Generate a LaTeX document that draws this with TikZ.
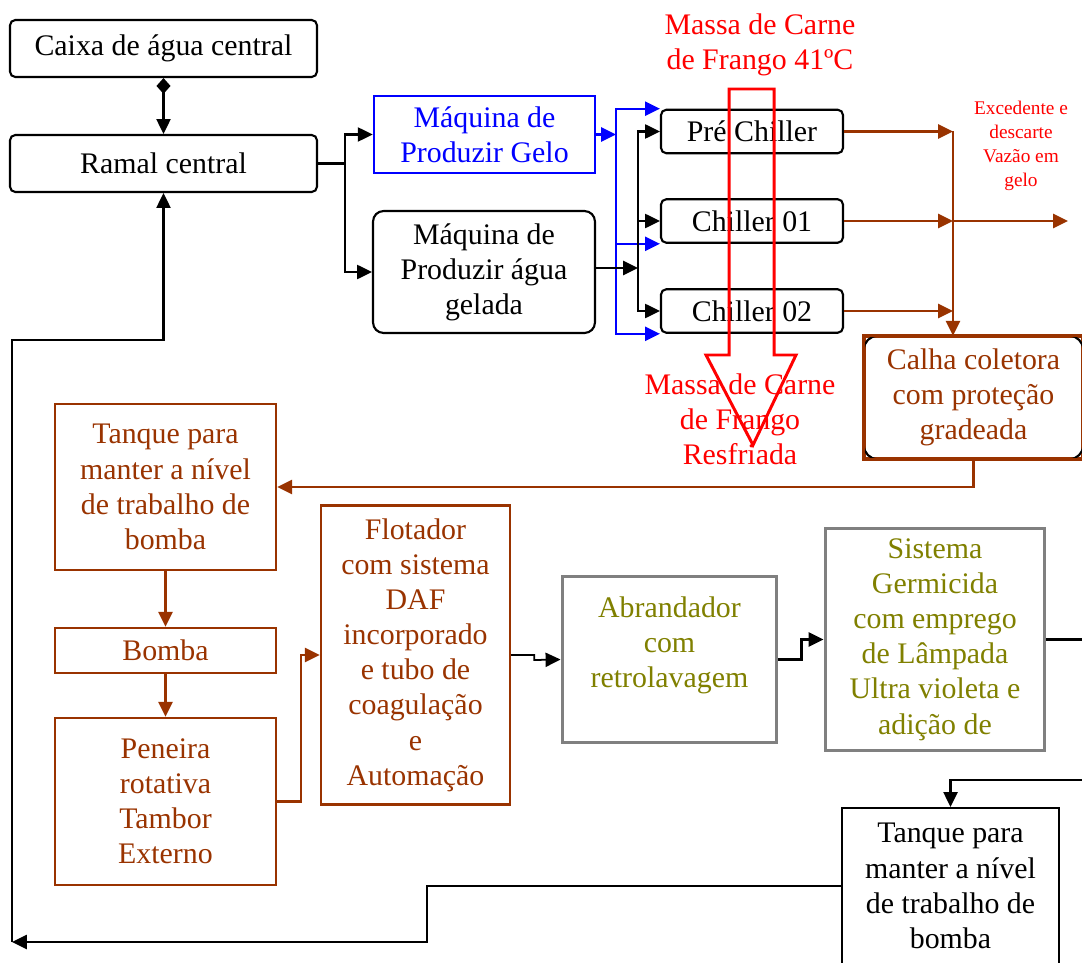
\documentclass[tikz,border=0pt]{standalone}
\usepackage{fontspec}
\setmainfont{Liberation Serif}
\usetikzlibrary{arrows.meta}
\definecolor{brn}{RGB}{153,51,0}
\definecolor{olv}{RGB}{128,128,0}

\begin{document}
\begin{tikzpicture}[x=0.02cm,y=-0.02cm,font=\fontsize{17}{20}\selectfont,
    >={Triangle[length=8.5pt,width=8pt]}]

        \def \lw {4.42cm}
        \def \cw {3.64cm}

        \tikzset{rndbox/.style={draw,line width=1.2pt,rounded corners=3pt,align=center,inner sep=0pt}}
        \tikzset{gelobox/.style={draw=blue,line width=1.5pt,text=blue,align=center,inner sep=0pt}}
        \tikzset{brnbox/.style={draw=brn,line width=1.4pt,text=brn,align=center,inner sep=0pt}}
        \tikzset{olvbox/.style={draw=gray,line width=1.7pt,text=olv,align=center,inner sep=0pt}}
        \tikzset{sqbox/.style={draw,line width=1.2pt,align=center,inner sep=0pt}}
        \tikzset{conn/.style={line width=1.3pt}}
        \tikzset{bconn/.style={blue,line width=1.3pt}}
        \tikzset{brconn/.style={brn,line width=1.3pt}}
        \tikzset{redtxt/.style={text=red,align=center,inner sep=0pt}}

        \useasboundingbox (0,0) rectangle (1082,963);

        % Draw boxes
        \node (caixa) at (163.5,48.5) [rndbox,minimum width=6.14cm,minimum height=1.14cm] {Caixa de água central};
        \node (ramal) at (163.5,163.5) [rndbox,minimum width=6.14cm,minimum height=1.14cm] {Ramal central};
        \node (gelo) at (484.5,134.5) [gelobox,minimum width=\lw,minimum height=1.54cm] {Máquina de\\Produzir Gelo};
        \node (agua) at (484,272) [rndbox,rounded corners=6pt,minimum width=4.44cm,minimum height=2.44cm] {Máquina de\\Produzir água\\gelada};
        \foreach \c/\y/\t in {pre/131.5/Pré Chiller,ch1/221/Chiller 01,ch2/311/Chiller 02} {
            \node (\c) at (752,\y) [rndbox,minimum width=\cw,minimum height=0.87cm] {\t};
        }
        \node (calha) at (973.5,397.5) [brnbox,minimum width=4.34cm,minimum height=2.42cm] {Calha coletora\\com proteção\\gradeada};
        \draw[line width=1.2pt,rounded corners=8pt] (calha.north west) rectangle (calha.south east);
        \draw[brn,line width=1.6pt] (calha.north west) rectangle (calha.south east);
        \node (tanque1) at (165.5,487) [brnbox,minimum width=\lw,minimum height=3.32cm] {Tanque para\\manter a nível\\de trabalho de\\bomba};
        \node (bomba) at (165.5,650.5) [brnbox,minimum width=\lw,minimum height=0.9cm] {Bomba};
        \node (peneira) at (165.5,801.5) [brnbox,minimum width=\lw,minimum height=3.34cm] {Peneira\\rotativa\\Tambor\\Externo};
        \node (flot) at (415.5,655) [brnbox,minimum width=3.78cm,minimum height=5.98cm] {Flotador\\com sistema\\DAF\\incorporado\\e tubo de\\coagulação\\e\\Automação};
        \node (abr) at (669.5,659.5) [olvbox,minimum width=4.3cm,minimum height=3.34cm] {Abrandador\\com\\retrolavagem\\\mbox{}};
        \node (sist) at (935,639.5) [olvbox,minimum width=4.4cm,minimum height=4.46cm] {Sistema\\Germicida\\com emprego\\de Lâmpada\\Ultra violeta e\\adição de};
        \node (tanque2) at (950.5,886) [sqbox,minimum width=4.34cm,minimum height=3.12cm] {Tanque para\\manter a nível\\de trabalho de\\bomba};

        % Draw connectors
        \draw[conn,{Diamond[length=9pt,width=8pt]}-{Triangle[length=8.5pt,width=8pt]}] (caixa) -- (ramal);
        \coordinate (rj) at (345,163.5);
        \draw[conn,->] (ramal.east) -- (rj) |- (gelo.west);
        \draw[conn,->] (rj) |- (agua.west);

        \coordinate (bj) at (616,134.5);
        \draw[bconn,->] (gelo.east) -- (bj);
        \draw[bconn,->] (bj) |- (pre.north west);
        \draw[bconn,->] (bj) |- (ch1.south west);
        \draw[bconn,->] (bj) |- (ch2.south west);

        \coordinate (aj) at (638,268);
        \draw[conn,->] (agua.east |- aj) -- (aj);
        \foreach \c in {pre,ch1,ch2} {
            \draw[conn,->] (aj) |- (\c.west);
        }

        \coordinate (cj) at (953,131.5);
        \foreach \c in {pre,ch1,ch2} {
            \draw[brconn,->] (\c.east) -- (\c.east -| cj);
        }
        \draw[brconn,->] (cj) -- (cj |- calha.north);
        \coordinate (exit) at (1068,221);
        \draw[brconn,->] (ch1.east -| cj) -- (exit);

        \draw[brconn,->] (calha.south) |- (tanque1.east);
        \draw[brconn,->] (tanque1) -- (bomba);
        \draw[brconn,->] (bomba) -- (peneira);
        \draw[brconn,->] (peneira.east) -- ++(24,0) |- (flot.west);

        \draw[conn,line width=1pt,->] (flot.east) -- ++(23,0) -- ++(0,5) -- (abr.west);
        \draw[conn,->] (abr.east) -- ++(23,0) |- (sist.west);
        \coordinate (sout) at (1082,639.5);
        \draw[conn] (sist.east) -- (sout);
        \coordinate (sin) at (1082,780);
        \draw[conn,->] (sin) -| (tanque2.north);
        \coordinate (ret) at (12,942);
        \draw[conn,->] (tanque2.west) -- ++(-414,0) |- (ret);
        \coordinate (lc) at (12,340);
        \draw[conn,->] (ret) -- (lc) -| (ramal.south);

        % Big red arrow
        \draw[red,line width=1.7pt] (729,89) -- (774,89) -- (774,355) -- (796,355)
            -- (753,445) -- (706,355) -- (729,355) -- cycle;

        % Red labels
        \node (massa1) at (760,45) [redtxt] {Massa de Carne\\de Frango 41ºC};
        \node (massa2) at (740,419) [redtxt] {Massa de Carne\\de Frango\\Resfriada};
        \node (exced) at (1021,146) [redtxt,font=\fontsize{11}{13.6}\selectfont] {Excedente e\\descarte\\Vazão em\\gelo};

    \end{tikzpicture}
\end{document}
